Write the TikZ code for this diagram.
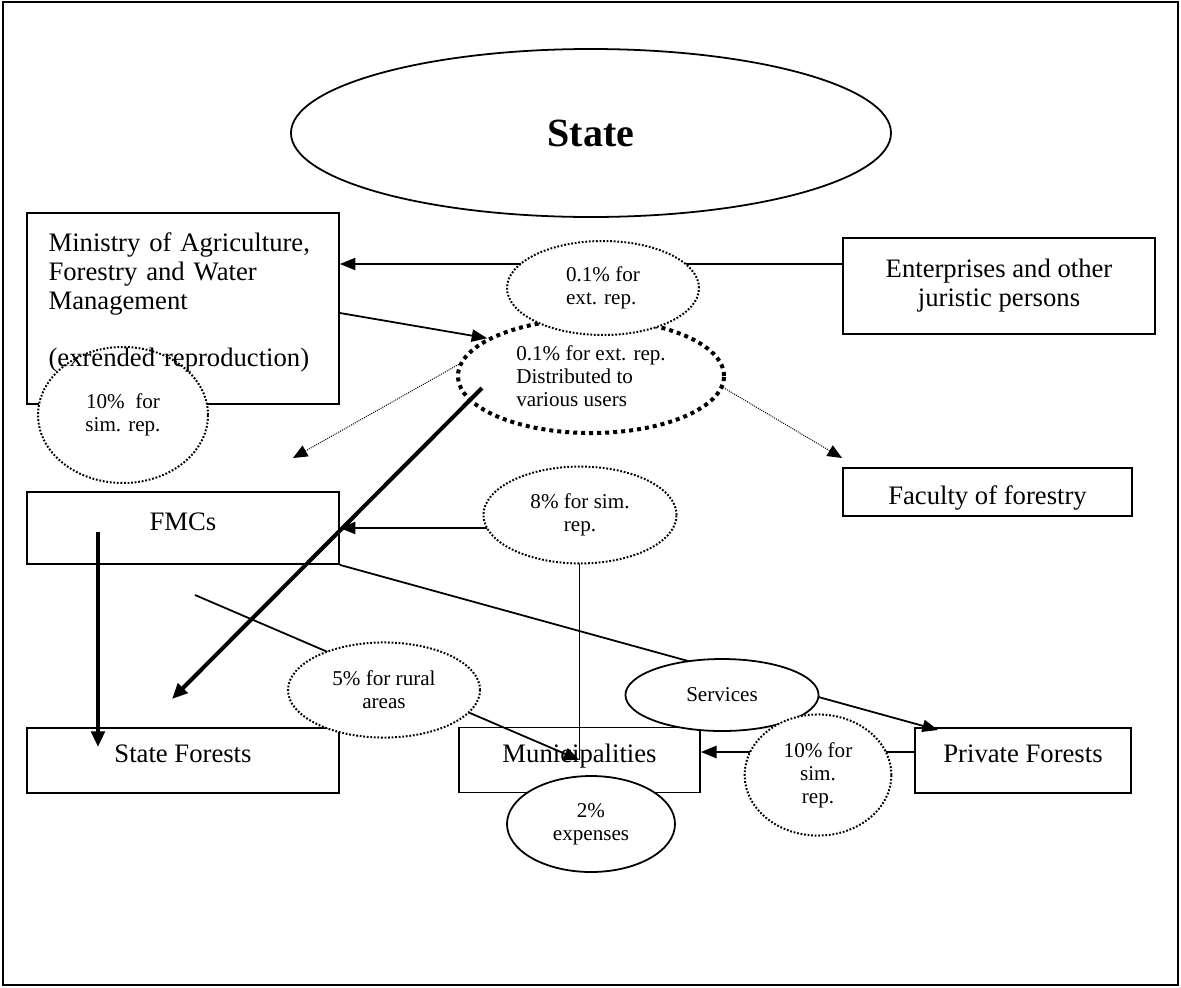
\documentclass[tikz,border=0pt]{standalone}
\usepackage{fontspec}
\setmainfont{Liberation Serif}
\usetikzlibrary{shapes,arrows,positioning,calc,arrows.meta}

\tikzset{
  box/.style={draw, line width=0.8pt, fill=white, minimum width=140.4pt, minimum height=29.25pt,
    inner sep=4pt, font=\fontsize{12}{13}\selectfont},
  onebox/.style={box, text depth=6pt},
  oval/.style={draw, ellipse, line width=0.8pt, fill=white, inner sep=0pt, align=center,
    font=\fontsize{9.5}{10.4}\selectfont},
  dotoval/.style={oval, line width=0.9pt, dash pattern=on 0.8pt off 0.8pt},
  link/.style={line width=0.8pt, -{Triangle[length=7pt,width=5.5pt]}},
  heavy/.style={line width=1.8pt, -{Triangle[length=7pt,width=6pt]}},
  hint/.style={line width=0.45pt, dash pattern=on 0.45pt off 0.5pt, -{Triangle[length=6.5pt,width=5.5pt]}},
}

\begin{document}
\begin{tikzpicture}[x=0.45pt, y=-0.45pt]
    \useasboundingbox (0,0) rectangle (1181,987);
    \draw[line width=0.7pt] (3,2) rectangle (1178,985);

    % ministry frame first, its oval goes over it, its text over both
    \draw[line width=0.8pt] (27,213) rectangle (339,404);
    \node[dotoval, minimum width=76.5pt, minimum height=61.2pt] (simmin) at (123,415) {10\% \ for\\sim. rep.};
    \node[box, draw=none, fill=none, text width=121pt, inner xsep=9.6pt, minimum height=86pt, align=left] (min) at (183,302.5)
        {Ministry of Agriculture,\\Forestry and Water\\Management\\[13pt](exrended reproduction)};

    % boxes
    \node[box, minimum height=43.2pt, align=center] (ent) at (999,286) {Enterprises and other\\juristic persons};
    \node[box, minimum width=130pt, minimum height=21.6pt, inner ysep=1pt, text height=14pt] (fac) at (987.5,492) {Faculty of forestry};
    \node[onebox, minimum height=32.4pt] (fmc) at (183,528) {FMCs};
    \node[onebox] (sf) at (183,760.5) {State Forests};
    \node[onebox, minimum width=108.5pt] (muni) at (579.5,760) {Municipalities};
    \node[onebox, minimum width=97.2pt] (priv) at (1023,760.5) {Private Forests};

    % lines running under the ovals
    \coordinate (ext lvl) at (0,264);
    \coordinate (agri lvl) at (0,313);
    \coordinate (muni lvl) at (0,752);
    \coordinate (rural start) at (195,595);
    \coordinate (priv tip) at (938,730);
    \draw[link] (ent.west |- ext lvl) -- (min.east |- ext lvl);
    \draw[link] (priv.west |- muni lvl) -- (muni.east |- muni lvl);
    \draw[link] (muni.center) |- (fmc.east);
    \draw[link] (rural start) -- (muni.center);
    \draw[link] (fmc.south east) -- (priv tip);

    % ovals
    \node[oval, minimum width=270pt, minimum height=75.6pt, font=\fontsize{18}{20}\selectfont\bfseries] (state) at (591,133) {State};
    \node[dotoval, line width=1.8pt, dash pattern=on 1.8pt off 1.8pt, minimum width=119.7pt, minimum height=51.3pt, align=left] (dist) at (591,376)
        {0.1\% for ext. rep.\\Distributed to\\various users};
    \node[dotoval, minimum width=86.4pt, minimum height=42.3pt, align=left] (ext) at (603,288) {0.1\% for\\ext. rep.};
    \node[dotoval, minimum width=86.9pt, minimum height=43.6pt] (simfmc) at (580,515) {8\% for sim.\\rep.};
    \node[dotoval, minimum width=86.4pt, minimum height=42.8pt] (rural) at (384,690) {5\% for rural\\areas};
    \node[oval, minimum width=86.9pt, minimum height=32.4pt] (serv) at (722,695) {Services};
    \node[oval, minimum width=75.6pt, minimum height=43.2pt] (cost) at (591,824) {2\%\\expenses};
    \node[dotoval, minimum width=66pt, minimum height=54.5pt] (simpriv) at (818,775) {10\% for\\sim.\\rep.};

    % lines on top
    \coordinate (dist in) at (482,388);
    \coordinate (sf tip) at (172,699);
    \coordinate (fmc in) at (98,532);
    \coordinate (sf in) at (98,747);
    \coordinate (fmc tip) at (293,458);
    \coordinate (fac tip) at (842,458);
    \draw[link] (min.east |- agri lvl) -- (dist.160);
    \draw[heavy] (dist in) -- (sf tip);
    \draw[heavy] (fmc in) -- (sf in);
    \draw[hint] (dist.175) -- (fmc tip);
    \draw[hint] (dist.-5) -- (fac tip);
\end{tikzpicture}
\end{document}
